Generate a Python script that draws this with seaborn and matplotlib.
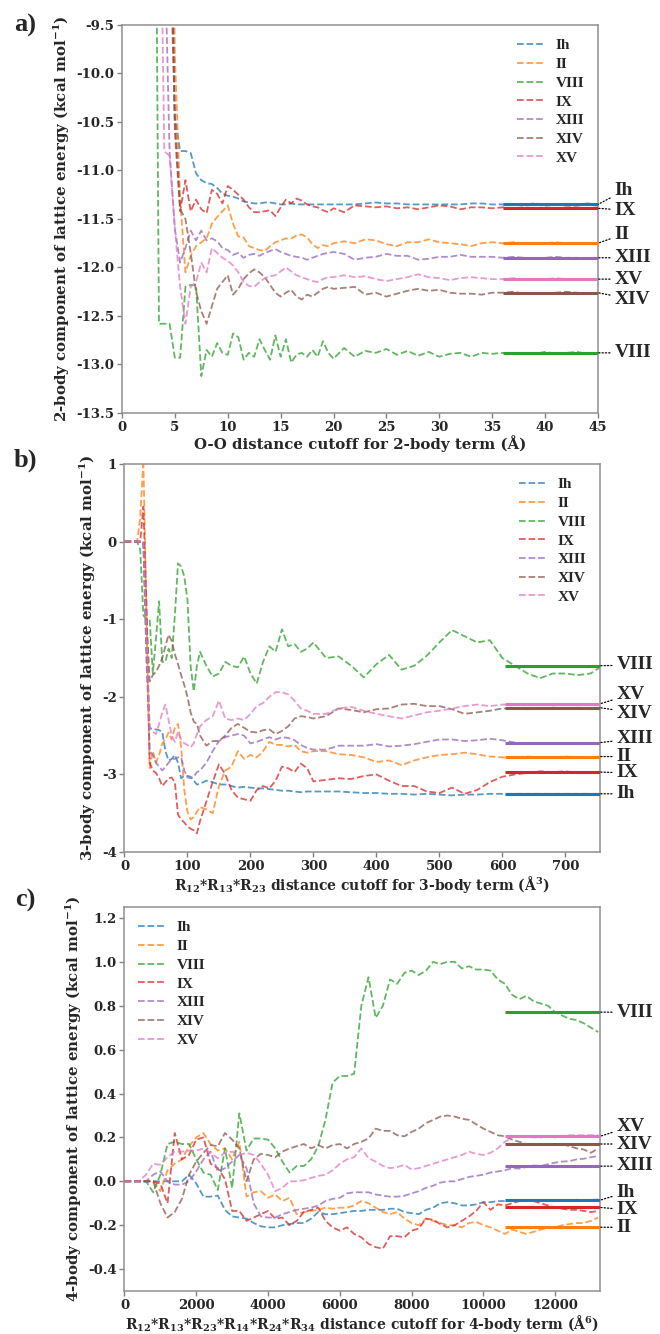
import numpy as np
import pandas as pd
import matplotlib
matplotlib.use("Agg")
import matplotlib.pyplot as plt
import seaborn as sns
from matplotlib.lines import Line2D
from matplotlib.font_manager import FontProperties
from matplotlib.ticker import FormatStrFormatter

# ---------------- data ----------------
phases = ["Ih", "II", "VIII", "IX", "XIII", "XIV", "XV"]

# panel a: 2-body
xa = [3.0, 3.5, 4.0, 4.5, 5.0, 5.5, 6.0, 6.5, 7.0, 7.5,
      8.0, 8.5, 9.0, 9.5, 10.0, 10.5, 11.0, 11.5, 12.0, 12.5,
      13.0, 13.5, 14.0, 14.5, 15.0, 15.5, 16.0, 16.5, 17.0, 17.5,
      18.0, 18.5, 19.0, 19.5, 20.0, 21, 22, 23, 24, 25,
      26, 27, 28, 29, 30, 31, 32, 33, 34, 35,
      36, 37, 38, 39, 40, 41, 42, 43, 44, 45]
a_Ih = [-5, -5, -5, -7, -10.45, -10.80, -10.80, -10.82, -11.03, -11.10,
        -11.13, -11.14, -11.18, -11.24, -11.26, -11.27, -11.29, -11.32, -11.33, -11.34,
        -11.34, -11.33, -11.33, -11.34, -11.35, -11.35, -11.34, -11.35, -11.35, -11.35,
        -11.35, -11.35, -11.35, -11.35, -11.35, -11.35, -11.35, -11.34, -11.33, -11.34,
        -11.34, -11.35, -11.35, -11.35, -11.35, -11.35, -11.35, -11.34, -11.34, -11.35,
        -11.35, -11.35, -11.35, -11.34, -11.35, -11.35, -11.35, -11.35, -11.34, -11.35]
a_II = [-5, -5, -5, -5.5, -9.8, -11.30, -12.05, -11.88, -11.78, -11.74,
        -11.70, -11.55, -11.48, -11.42, -11.36, -11.55, -11.68, -11.69, -11.78, -11.80,
        -11.82, -11.83, -11.78, -11.74, -11.72, -11.70, -11.70, -11.67, -11.66, -11.69,
        -11.76, -11.80, -11.77, -11.78, -11.75, -11.73, -11.75, -11.71, -11.72, -11.76,
        -11.78, -11.74, -11.74, -11.71, -11.74, -11.75, -11.76, -11.78, -11.75, -11.74,
        -11.75, -11.74, -11.75, -11.76, -11.75, -11.74, -11.75, -11.75, -11.76, -11.75]
a_VIII = [-5, -12.58, -12.58, -12.58, -12.93, -12.93, -12.20, -12.18, -12.18, -13.12,
          -12.85, -12.92, -12.78, -12.88, -12.90, -12.68, -12.72, -12.95, -12.88, -12.92,
          -12.74, -12.85, -12.95, -12.70, -12.92, -12.74, -12.98, -12.90, -12.88, -12.92,
          -12.85, -12.92, -12.76, -12.88, -12.94, -12.83, -12.92, -12.86, -12.88, -12.84,
          -12.90, -12.86, -12.91, -12.87, -12.92, -12.89, -12.88, -12.92, -12.88, -12.89,
          -12.88, -12.89, -12.88, -12.89, -12.87, -12.89, -12.88, -12.87, -12.89, -12.88]
a_IX = [-5, -5, -5, -7.5, -10.6, -11.42, -11.10, -11.42, -11.30, -11.40,
        -11.44, -11.20, -11.24, -11.34, -11.16, -11.20, -11.25, -11.30, -11.38, -11.43,
        -11.43, -11.42, -11.41, -11.47, -11.38, -11.30, -11.34, -11.29, -11.31, -11.35,
        -11.37, -11.38, -11.41, -11.43, -11.39, -11.43, -11.36, -11.37, -11.38, -11.37,
        -11.39, -11.38, -11.40, -11.38, -11.36, -11.37, -11.40, -11.38, -11.38, -11.39,
        -11.38, -11.39, -11.38, -11.39, -11.38, -11.39, -11.38, -11.38, -11.39, -11.38]
a_XIII = [-5, -6, -8.5, -10.8, -11.60, -11.95, -11.80, -11.62, -11.72, -11.62,
          -11.72, -11.70, -11.73, -11.80, -11.82, -11.87, -11.85, -11.90, -11.87, -11.86,
          -11.88, -11.85, -11.83, -11.81, -11.84, -11.86, -11.88, -11.89, -11.90, -11.92,
          -11.90, -11.88, -11.86, -11.85, -11.84, -11.86, -11.92, -11.90, -11.89, -11.86,
          -11.88, -11.88, -11.92, -11.91, -11.89, -11.89, -11.87, -11.89, -11.89, -11.89,
          -11.90, -11.89, -11.90, -11.91, -11.90, -11.89, -11.90, -11.90, -11.91, -11.90]
a_XIV = [-5, -5, -6, -8.5, -10.45, -11.40, -11.50, -11.85, -12.25, -12.45,
         -12.58, -12.40, -12.22, -12.15, -12.08, -12.28, -12.22, -12.12, -12.06, -12.02,
         -12.05, -12.10, -12.18, -12.26, -12.30, -12.26, -12.23, -12.30, -12.33, -12.28,
         -12.30, -12.26, -12.22, -12.20, -12.22, -12.21, -12.20, -12.28, -12.26, -12.30,
         -12.27, -12.24, -12.22, -12.24, -12.23, -12.26, -12.27, -12.27, -12.28, -12.26,
         -12.26, -12.25, -12.27, -12.26, -12.27, -12.26, -12.25, -12.26, -12.27, -12.26]
a_XV = [-5, -7, -10.80, -10.85, -11.60, -12.20, -12.58, -12.20, -12.15, -11.95,
        -12.05, -11.80, -11.85, -11.90, -11.93, -11.98, -12.05, -12.15, -12.19, -12.20,
        -12.15, -12.11, -12.09, -12.08, -12.04, -12.00, -12.04, -12.08, -12.10, -12.12,
        -12.14, -12.15, -12.12, -12.10, -12.10, -12.08, -12.10, -12.09, -12.12, -12.14,
        -12.12, -12.10, -12.07, -12.10, -12.11, -12.13, -12.11, -12.10, -12.11, -12.12,
        -12.12, -12.11, -12.12, -12.13, -12.12, -12.11, -12.12, -12.12, -12.13, -12.12]
mean_a = [-11.35, -11.75, -12.88, -11.39, -11.90, -12.26, -12.12]

# panel b: 3-body
xb = [0, 10, 20, 25, 30, 35, 40, 45, 50, 55,
      60, 65, 70, 75, 80, 85, 90, 95, 100, 105,
      110, 115, 120, 130, 140, 150, 160, 170, 180, 190,
      200, 210, 220, 230, 240, 250, 260, 270, 280, 290,
      300, 320, 340, 360, 380, 400, 420, 440, 460, 480,
      500, 520, 540, 560, 580, 600, 620, 640, 660, 680,
      700, 720, 740, 755]
b_Ih = [0, 0, 0, 0, 0, -1.5, -2.40, -2.42, -2.42, -2.43,
        -2.45, -2.70, -2.82, -2.80, -2.75, -2.85, -3.05, -3.02, -3.02, -3.03,
        -3.08, -3.13, -3.12, -3.08, -3.10, -3.13, -3.13, -3.15, -3.17, -3.16,
        -3.17, -3.18, -3.18, -3.19, -3.20, -3.21, -3.21, -3.22, -3.23, -3.22,
        -3.22, -3.22, -3.22, -3.23, -3.24, -3.24, -3.25, -3.25, -3.26, -3.25,
        -3.26, -3.27, -3.26, -3.26, -3.25, -3.25, -3.25, -3.25, -3.25, -3.25,
        -3.25, -3.25, -3.25, -3.25]
b_II = [0, 0, 0, 0.3, 1.05, -1.0, -2.92, -2.70, -2.85, -2.75,
        -2.60, -2.55, -2.46, -2.55, -2.40, -2.35, -2.65, -3.20, -3.48, -3.58,
        -3.55, -3.48, -3.42, -3.45, -3.50, -3.15, -2.95, -2.90, -2.70, -2.80,
        -2.75, -2.78, -2.70, -2.58, -2.62, -2.62, -2.64, -2.62, -2.70, -2.72,
        -2.70, -2.70, -2.74, -2.75, -2.78, -2.84, -2.82, -2.88, -2.82, -2.78,
        -2.75, -2.74, -2.72, -2.74, -2.77, -2.78, -2.78, -2.77, -2.78, -2.78,
        -2.77, -2.78, -2.78, -2.77]
b_VIII = [0, 0, 0, -0.1, -0.95, -1.0, -1.0, -1.70, -1.25, -0.77,
          -1.55, -1.55, -1.38, -1.50, -0.95, -0.28, -0.32, -0.45, -0.75, -1.60,
          -1.93, -1.60, -1.42, -1.60, -1.74, -1.70, -1.55, -1.60, -1.62, -1.48,
          -1.70, -1.83, -1.55, -1.35, -1.42, -1.13, -1.35, -1.32, -1.42, -1.38,
          -1.30, -1.50, -1.48, -1.60, -1.75, -1.58, -1.46, -1.65, -1.60, -1.47,
          -1.30, -1.14, -1.22, -1.30, -1.27, -1.50, -1.60, -1.70, -1.76, -1.70,
          -1.70, -1.72, -1.70, -1.62]
b_IX = [0, 0, 0, 0, 0.45, -0.8, -2.85, -2.95, -2.98, -3.05,
        -3.15, -3.10, -3.05, -3.04, -3.10, -3.52, -3.58, -3.62, -3.67, -3.70,
        -3.72, -3.76, -3.60, -3.35, -3.10, -2.87, -3.00, -3.20, -3.30, -3.32,
        -3.34, -3.20, -3.15, -3.18, -3.08, -2.90, -2.92, -2.97, -2.86, -2.92,
        -3.09, -3.07, -3.05, -3.06, -3.02, -3.00, -3.08, -3.15, -3.15, -3.22,
        -3.24, -3.17, -3.25, -3.20, -3.10, -3.03, -3.00, -2.98, -2.96, -2.97,
        -2.96, -2.98, -2.97, -2.98]
b_XIII = [0, 0, 0, 0, 0, -1.5, -2.70, -2.75, -2.85, -2.90,
          -2.95, -2.90, -2.85, -2.80, -2.80, -2.78, -2.78, -2.95, -3.04, -3.05,
          -3.03, -2.97, -2.95, -2.85, -2.70, -2.57, -2.52, -2.50, -2.48, -2.50,
          -2.60, -2.58, -2.55, -2.52, -2.55, -2.52, -2.53, -2.56, -2.62, -2.66,
          -2.68, -2.68, -2.63, -2.63, -2.63, -2.61, -2.64, -2.63, -2.61, -2.58,
          -2.55, -2.55, -2.57, -2.56, -2.54, -2.56, -2.59, -2.61, -2.60, -2.60,
          -2.60, -2.61, -2.60, -2.60]
b_XIV = [0, 0, 0, 0, 0, -1.0, -1.80, -1.72, -1.68, -1.60,
         -1.50, -1.35, -1.20, -1.28, -1.45, -1.58, -1.72, -1.85, -2.00, -2.20,
         -2.32, -2.35, -2.50, -2.63, -2.57, -2.57, -2.50, -2.40, -2.35, -2.40,
         -2.45, -2.46, -2.43, -2.42, -2.48, -2.44, -2.38, -2.28, -2.25, -2.26,
         -2.28, -2.25, -2.15, -2.17, -2.20, -2.16, -2.15, -2.10, -2.09, -2.12,
         -2.12, -2.16, -2.22, -2.20, -2.18, -2.15, -2.15, -2.16, -2.15, -2.14,
         -2.15, -2.15, -2.16, -2.15]
b_XV = [0, 0, 0, 0, 0, -1.2, -2.40, -2.45, -2.48, -2.35,
        -2.20, -2.10, -2.30, -2.50, -2.58, -2.45, -2.55, -2.60, -2.62, -2.65,
        -2.60, -2.48, -2.38, -2.30, -2.25, -2.05, -2.28, -2.30, -2.28, -2.30,
        -2.22, -2.12, -2.08, -2.00, -1.94, -1.94, -1.97, -2.05, -2.15, -2.18,
        -2.22, -2.22, -2.15, -2.13, -2.18, -2.22, -2.25, -2.28, -2.24, -2.20,
        -2.18, -2.15, -2.12, -2.10, -2.12, -2.10, -2.10, -2.11, -2.10, -2.09,
        -2.10, -2.11, -2.10, -2.10]
mean_b = [-3.25, -2.77, -1.60, -2.97, -2.59, -2.14, -2.09]

# panel c: 4-body
xc = list(range(0, 13201, 200))
c_Ih = [0, 0, 0, 0, 0, 0, 0, 0, 0.0, 0.03,
        -0.01, -0.07, -0.07, -0.065, -0.13, -0.16, -0.165, -0.17, -0.19, -0.205,
        -0.21, -0.21, -0.20, -0.195, -0.19, -0.19, -0.17, -0.14, -0.15, -0.15,
        -0.145, -0.14, -0.135, -0.135, -0.13, -0.13, -0.13, -0.125, -0.125, -0.14,
        -0.145, -0.15, -0.13, -0.12, -0.10, -0.095, -0.10, -0.11, -0.11, -0.105,
        -0.095, -0.095, -0.09, -0.09, -0.088, -0.09, -0.086, -0.088, -0.085, -0.087,
        -0.086, -0.085, -0.087, -0.084, -0.086, -0.085, -0.083]
c_II = [0, 0, 0, 0, 0, -0.045, 0.05, 0.08, 0.10, 0.16,
        0.20, 0.22, 0.17, 0.14, 0.15, 0.10, 0.18, -0.07, -0.05, -0.045,
        -0.075, -0.06, -0.09, -0.075, -0.15, -0.14, -0.135, -0.13, -0.12, -0.125,
        -0.12, -0.12, -0.11, -0.09, -0.10, -0.12, -0.14, -0.15, -0.14, -0.17,
        -0.19, -0.20, -0.17, -0.18, -0.19, -0.20, -0.20, -0.21, -0.19, -0.185,
        -0.20, -0.21, -0.225, -0.24, -0.22, -0.23, -0.24, -0.23, -0.22, -0.21,
        -0.21, -0.20, -0.195, -0.19, -0.19, -0.18, -0.165]
c_VIII = [0, 0, 0, 0, -0.05, 0.03, 0.17, 0.18, 0.17, 0.17,
          0.10, 0.04, 0.03, -0.04, 0.15, -0.03, 0.31, 0.14, 0.195, 0.195,
          0.19, 0.15, 0.09, 0.04, 0.07, 0.07, 0.10, 0.16, 0.28, 0.45,
          0.48, 0.48, 0.49, 0.80, 0.93, 0.745, 0.80, 0.92, 0.90, 0.95,
          0.96, 0.94, 0.96, 1.00, 0.99, 1.00, 1.00, 0.97, 0.98, 0.965,
          0.965, 0.96, 0.92, 0.90, 0.85, 0.83, 0.845, 0.82, 0.81, 0.80,
          0.77, 0.755, 0.74, 0.735, 0.72, 0.70, 0.68]
c_IX = [0, 0, 0, 0, 0, -0.01, -0.10, 0.22, 0.10, 0.12,
        0.19, 0.20, 0.08, 0.06, 0.01, -0.135, -0.135, -0.18, -0.165, -0.15,
        -0.135, -0.17, -0.165, -0.20, -0.18, -0.14, -0.13, -0.12, -0.18, -0.21,
        -0.225, -0.21, -0.24, -0.255, -0.285, -0.30, -0.307, -0.25, -0.25, -0.255,
        -0.225, -0.215, -0.17, -0.175, -0.195, -0.21, -0.20, -0.18, -0.16, -0.135,
        -0.095, -0.13, -0.105, -0.11, -0.10, -0.09, -0.085, -0.09, -0.10, -0.11,
        -0.12, -0.125, -0.13, -0.13, -0.135, -0.14, -0.135]
c_XIII = [0, 0, 0, 0, 0.03, 0.045, 0.0, -0.015, -0.015, 0.0,
          0.045, 0.10, 0.135, 0.045, 0.06, 0.09, 0.12, 0.06, -0.10, -0.16,
          -0.165, -0.165, -0.15, -0.14, -0.13, -0.125, -0.12, -0.11, -0.09, -0.08,
          -0.075, -0.055, -0.05, -0.05, -0.05, -0.06, -0.065, -0.07, -0.07, -0.066,
          -0.055, -0.045, -0.03, -0.02, -0.006, 0.0, 0.0, 0.01, 0.02, 0.025,
          0.03, 0.04, 0.045, 0.05, 0.06, 0.058, 0.065, 0.072, 0.07, 0.078,
          0.085, 0.09, 0.092, 0.10, 0.103, 0.11, 0.115]
c_XIV = [0, 0, 0, 0, 0, -0.10, -0.165, -0.14, -0.08, 0.03,
         0.09, 0.13, 0.165, 0.16, 0.22, 0.19, 0.15, 0.0, 0.10, 0.125,
         0.12, 0.11, 0.135, 0.15, 0.16, 0.17, 0.15, 0.165, 0.15, 0.165,
         0.17, 0.15, 0.17, 0.18, 0.195, 0.24, 0.23, 0.23, 0.21, 0.205,
         0.225, 0.24, 0.265, 0.28, 0.295, 0.30, 0.295, 0.285, 0.28, 0.26,
         0.24, 0.225, 0.21, 0.205, 0.19, 0.18, 0.17, 0.17, 0.165, 0.167,
         0.17, 0.17, 0.16, 0.15, 0.145, 0.13, 0.15]
c_XV = [0, 0, 0, 0.03, 0.08, 0.075, 0.11, 0.135, 0.135, 0.14,
        0.14, 0.15, 0.13, 0.105, 0.13, 0.135, 0.12, 0.13, 0.12, 0.08,
        0.03, -0.045, -0.03, 0.0, 0.0, 0.005, 0.015, 0.025, 0.03, 0.05,
        0.08, 0.10, 0.11, 0.15, 0.105, 0.09, 0.07, 0.06, 0.065, 0.075,
        0.054, 0.06, 0.07, 0.08, 0.09, 0.10, 0.11, 0.12, 0.135, 0.125,
        0.12, 0.13, 0.15, 0.18, 0.20, 0.205, 0.205, 0.20, 0.20, 0.205,
        0.20, 0.205, 0.21, 0.21, 0.21, 0.21, 0.21]
mean_c = [-0.086, -0.209, 0.771, -0.119, 0.069, 0.17, 0.205]

# ---------------- style ----------------
sns.set_theme(style="ticks")
plt.rcParams["font.family"] = ["DejaVu Serif"]
plt.rcParams["font.weight"] = "bold"
plt.rcParams["axes.labelweight"] = "bold"
plt.rcParams["axes.unicode_minus"] = False
plt.rcParams["mathtext.fontset"] = "dejavuserif"
plt.rcParams["mathtext.default"] = "bf"

colors = sns.color_palette("tab10", 7)
tfont = FontProperties(family="Liberation Serif", weight="bold", size=14)
lfont = FontProperties(family="Liberation Serif", weight="bold", size=11)

fig = plt.figure(figsize=(6.6, 13.34), dpi=100)

panels = [
    dict(x=xa, ys=[a_Ih, a_II, a_VIII, a_IX, a_XIII, a_XIV, a_XV], means=mean_a,
         rect=[0.1848, 0.6904, 0.7212, 0.2909], xlim=(0, 45), ylim=(-13.5, -9.5),
         xticks=np.arange(0, 46, 5), yticks=np.arange(-13.5, -9.4, 0.5),
         yfmt="%.1f", xl_size=10.8,
         xlabel="O-O distance cutoff for 2-body term (Å)",
         ylabel="2-body component of lattice energy (kcal mol$^{-1}$)",
         legloc="upper right",
         lab_y={"Ih": -11.21, "IX": -11.41, "II": -11.66, "XIII": -11.90,
                "XV": -12.12, "XIV": -12.33, "VIII": -12.88},
         letter="a)", letter_y=25),
    dict(x=xb, ys=[b_Ih, b_II, b_VIII, b_IX, b_XIII, b_XIV, b_XV], means=mean_b,
         rect=[0.1886, 0.3613, 0.7205, 0.2909], xlim=(0, 755), ylim=(-4, 1),
         xticks=np.arange(0, 701, 100), yticks=np.arange(-4, 1.1, 1),
         yfmt="%d", xl_size=10,
         xlabel="R$_{12}$*R$_{13}$*R$_{23}$ distance cutoff for 3-body term (Å$^{3}$)",
         ylabel="3-body component of lattice energy (kcal mol$^{-1}$)",
         legloc="upper right",
         lab_y={"VIII": -1.59, "XV": -1.97, "XIV": -2.21, "XIII": -2.54,
                "II": -2.77, "IX": -2.98, "Ih": -3.25},
         letter="b)", letter_y=460),
    dict(x=xc, ys=[c_Ih, c_II, c_VIII, c_IX, c_XIII, c_XIV, c_XV], means=mean_c,
         rect=[0.1886, 0.0322, 0.7205, 0.2879], xlim=(0, 13250), ylim=(-0.5, 1.25),
         xticks=np.arange(0, 12001, 2000), yticks=np.arange(-0.4, 1.21, 0.2),
         yfmt="%.1f", xl_size=10,
         xlabel="R$_{12}$*R$_{13}$*R$_{23}$*R$_{14}$*R$_{24}$*R$_{34}$ distance cutoff for 4-body term (Å$^{6}$)",
         ylabel="4-body component of lattice energy (kcal mol$^{-1}$)",
         legloc="upper left",
         lab_y={"VIII": 0.77, "XV": 0.25, "XIV": 0.17, "XIII": 0.07,
                "Ih": -0.05, "IX": -0.13, "II": -0.21},
         letter="c)", letter_y=900),
]

for p in panels:
    ax = fig.add_axes(p["rect"])
    n = len(p["x"])
    df = pd.DataFrame({
        "x": np.tile(p["x"], len(phases)),
        "E": np.concatenate([np.asarray(v, float) for v in p["ys"]]),
        "phase": np.repeat(phases, n),
    })
    sns.lineplot(data=df, x="x", y="E", hue="phase", hue_order=phases,
                 palette=colors, ax=ax, legend=False, estimator=None,
                 linestyle="--", linewidth=1.3, alpha=0.75, sort=False)
    x0 = 0.8 * p["xlim"][1]
    x1 = p["xlim"][1]
    for ph, m, c in zip(phases, p["means"], colors):
        ax.hlines(m, x0, x1, color=c, lw=2.2, zorder=5)
        ax.annotate(ph, xy=(x1, m), xycoords="data",
                    xytext=(1.035, p["lab_y"][ph]),
                    textcoords=ax.get_yaxis_transform(),
                    ha="left", va="center", fontproperties=tfont,
                    annotation_clip=False,
                    arrowprops=dict(arrowstyle="-", linestyle=":", lw=0.9,
                                    color="black", shrinkA=1, shrinkB=0))
    ax.set_xlim(*p["xlim"])
    ax.set_ylim(*p["ylim"])
    ax.set_xticks(p["xticks"])
    ax.set_yticks(p["yticks"])
    ax.yaxis.set_major_formatter(FormatStrFormatter(p["yfmt"]))
    ax.set_xlabel(p["xlabel"], fontsize=p["xl_size"], fontweight="bold", labelpad=1)
    ax.set_ylabel(p["ylabel"], fontsize=10.8, fontweight="bold", labelpad=3)
    ax.tick_params(labelsize=9.5, color="#808080", length=3.5, width=1, pad=2)
    for lab in ax.get_xticklabels() + ax.get_yticklabels():
        lab.set_fontweight("bold")
    for s in ax.spines.values():
        s.set_color("#909090")
        s.set_linewidth(1.1)
    handles = [Line2D([], [], color=c, ls="--", lw=1.3, alpha=0.75) for c in colors]
    ax.legend(handles, phases, loc=p["legloc"], frameon=False, prop=lfont,
              handlelength=1.7, handletextpad=0.8, labelspacing=0.33,
              borderaxespad=0.5)
    fig.text(25 / 660, 1 - p["letter_y"] / 1334, p["letter"],
             fontproperties=FontProperties(family="Liberation Serif", weight="bold", size=19),
             ha="center", va="center")

fig.savefig("out.png", dpi=100)
